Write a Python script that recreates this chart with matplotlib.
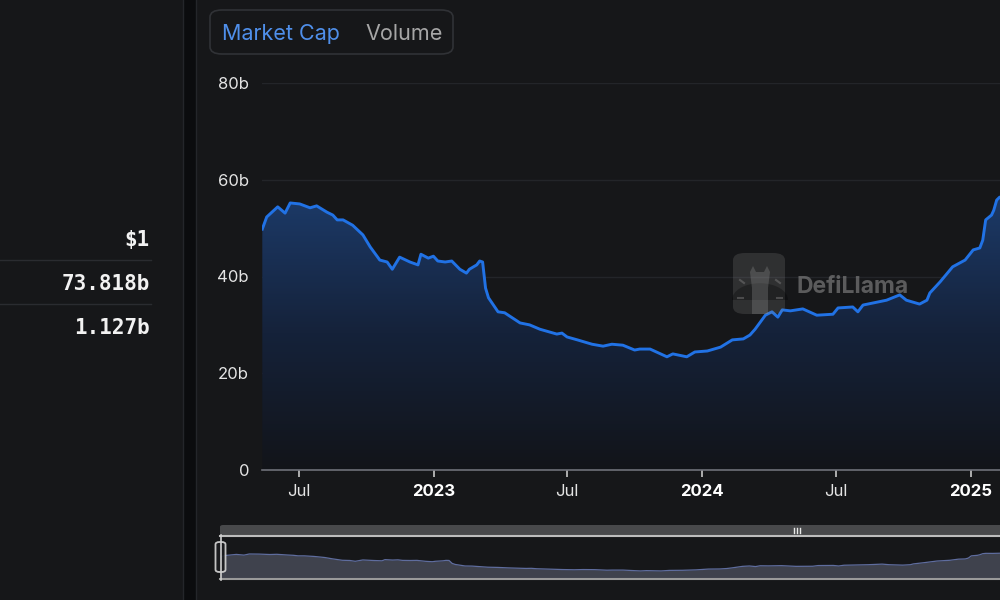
import matplotlib
matplotlib.use("Agg")
import matplotlib.pyplot as plt
import matplotlib.dates as mdates
from matplotlib.patches import FancyBboxPatch, Rectangle, Polygon, Wedge
from matplotlib.lines import Line2D
from matplotlib.colors import LinearSegmentedColormap
import numpy as np
import pandas as pd

# ---------------- data ----------------
DATES = [
    "2022-05-12", "2022-05-18", "2022-06-02", "2022-06-12", "2022-06-19", "2022-07-02",
    "2022-07-16", "2022-07-25", "2022-08-08", "2022-08-16", "2022-08-22", "2022-08-30",
    "2022-09-12", "2022-09-26", "2022-10-06", "2022-10-19", "2022-10-29", "2022-11-05",
    "2022-11-15", "2022-11-29", "2022-12-10", "2022-12-14", "2022-12-24", "2022-12-31",
    "2023-01-06", "2023-01-16", "2023-01-25", "2023-02-05", "2023-02-14", "2023-02-18",
    "2023-02-28", "2023-03-04", "2023-03-08", "2023-03-12", "2023-03-16", "2023-03-29",
    "2023-04-07", "2023-04-18", "2023-04-28", "2023-05-11", "2023-05-25", "2023-06-17",
    "2023-06-24", "2023-07-01", "2023-07-15", "2023-08-04", "2023-08-19", "2023-08-31",
    "2023-09-15", "2023-10-01", "2023-10-08", "2023-10-22", "2023-11-14", "2023-11-22",
    "2023-12-11", "2023-12-22", "2024-01-08", "2024-01-26", "2024-02-11", "2024-02-26",
    "2024-03-06", "2024-03-13", "2024-03-27", "2024-04-05", "2024-04-13", "2024-04-19",
    "2024-04-30", "2024-05-17", "2024-06-05", "2024-06-27", "2024-07-04", "2024-07-24",
    "2024-07-31", "2024-08-07", "2024-09-08", "2024-09-26", "2024-10-05", "2024-10-23",
    "2024-11-02", "2024-11-06", "2024-11-20", "2024-12-07", "2024-12-24", "2025-01-04",
    "2025-01-13", "2025-01-17", "2025-01-21", "2025-01-29", "2025-02-01", "2025-02-05",
    "2025-02-09", "2025-02-18", "2025-02-27",
]
MCAP_B = [
    49.8, 52.3, 54.4, 53.1, 55.2, 55.0,
    54.2, 54.6, 53.3, 52.7, 51.7, 51.7,
    50.6, 48.6, 46.1, 43.4, 43.0, 41.5,
    44.0, 43.0, 42.4, 44.6, 43.8, 44.2,
    43.2, 43.0, 43.2, 41.5, 40.7, 41.5,
    42.4, 43.2, 43.0, 37.6, 35.6, 32.7,
    32.5, 31.4, 30.4, 30.0, 29.1, 28.1,
    28.3, 27.5, 26.9, 26.0, 25.6, 26.0,
    25.8, 24.8, 25.0, 25.0, 23.4, 24.0,
    23.4, 24.4, 24.6, 25.4, 26.9, 27.1,
    27.9, 29.1, 32.0, 32.7, 31.6, 33.1,
    32.9, 33.3, 32.0, 32.2, 33.5, 33.7,
    32.7, 34.1, 35.1, 36.2, 35.1, 34.3,
    35.1, 36.6, 38.9, 42.0, 43.4, 45.5,
    45.9, 47.5, 51.7, 52.7, 53.7, 55.8,
    56.4, 56.3, 56.6,
]
X_TICK_DATES = ["2022-07-01", "2023-01-01", "2023-07-01", "2024-01-01", "2024-07-01", "2025-01-01"]
X_TICK_LABELS = ["Jul", "2023", "Jul", "2024", "Jul", "2025"]
Y_TICKS = [0, 20, 40, 60, 80]
Y_TICK_LABELS = ["0", "20b", "40b", "60b", "80b"]
TABS = ["Market Cap", "Volume"]
PANEL_VALUES = ["$1", "73.818b", "1.127b"]
MCAP_NOW_B = 73.818
BRAND = "DefiLlama"
MAIN_XLIM = ("2022-05-11 14:24", "2025-02-09 12:00")
MINI_XLIM = ("2022-05-11 14:24", "2025-02-27 14:00")

# ---------------- style ----------------
BG = "#161719"
STRIP = "#0b0c0e"
BORDER = "#24262a"
LINE_BLUE = "#2172e5"
TXT = "#e4e4e4"
UI_FONT = ["Inter", "DejaVu Sans"]
MONO = ["DejaVu Sans Mono"]

W, H = 1000, 600


def fx(x):
    return x / W


def fy(y):
    return 1 - y / H


fig = plt.figure(figsize=(10, 6), dpi=100, facecolor=BG)

# panels / separators
fig.add_artist(Rectangle((fx(183), 0), fx(12.5), 1, transform=fig.transFigure,
                         facecolor=STRIP, edgecolor="none", zorder=0))
for xb in (182.5, 196):
    fig.add_artist(Line2D([fx(xb), fx(xb)], [0, 1], transform=fig.transFigure,
                          color=BORDER, lw=1))
for ys in (260.5, 304.5):
    fig.add_artist(Line2D([0, fx(151)], [fy(ys), fy(ys)], transform=fig.transFigure,
                          color="#2a2c30", lw=1))
for txt, yb in zip(PANEL_VALUES, (246, 290, 334)):
    fig.text(fx(150), fy(yb), txt, ha="right", va="baseline", color="#f2f2f2",
             fontsize=15, fontweight="bold", family=MONO)

# tabs
fig.add_artist(FancyBboxPatch((fx(210), fy(54)), fx(243), 44 / H,
                              boxstyle="round,pad=0,rounding_size=0.012",
                              transform=fig.transFigure, facecolor=BG,
                              edgecolor="#303236", lw=1.2))
fig.text(fx(222), fy(40.5), TABS[0], ha="left", va="baseline", color="#4f8fea",
         fontsize=15.5, family=UI_FONT)
fig.text(fx(365), fy(40.5), TABS[1], ha="left", va="baseline", color="#a6a6a6",
         fontsize=15.5, family=UI_FONT)

# ---------------- main chart ----------------
d = pd.to_datetime(DATES)
v = np.array(MCAP_B)
xn = mdates.date2num(d)
x0, x1 = mdates.datestr2num(MAIN_XLIM[0]), mdates.datestr2num(MAIN_XLIM[1])

ax = fig.add_axes([fx(262), fy(470), 1 - fx(262), (470 - 83) / H])
ax.set_facecolor("none")
ax.patch.set_alpha(0)

poly = ax.fill_between(xn, v, 0, facecolor="none", edgecolor="none")
cmap = LinearSegmentedColormap.from_list("g", ["#121419", "#15223a", "#1c3a68"])
grad = np.linspace(0, 1, 256).reshape(-1, 1)
im = ax.imshow(grad, extent=[x0, x1, 0, v.max()], origin="lower", aspect="auto",
               cmap=cmap, zorder=1, interpolation="bilinear")
im.set_clip_path(poly.get_paths()[0], transform=ax.transData)
ax.plot(xn, v, color=LINE_BLUE, lw=2.1, zorder=3, solid_joinstyle="round")

ax.set_xlim(x0, x1)
ax.set_ylim(0, 80)
ax.set_yticks(Y_TICKS)
ax.set_yticklabels(Y_TICK_LABELS)
ax.tick_params(axis="y", length=0, pad=9.3, colors=TXT, labelsize=12)
for lab in ax.get_yticklabels():
    lab.set_family(UI_FONT)
ax.set_xticks(mdates.date2num(pd.to_datetime(X_TICK_DATES)))
ax.set_xticklabels(X_TICK_LABELS)
ax.tick_params(axis="x", length=5, width=1.2, color="#c8c8c8", pad=5,
               labelcolor=TXT, labelsize=12)
for lab in ax.get_xticklabels():
    lab.set_family(UI_FONT)
    if lab.get_text().isdigit():
        lab.set_fontweight("bold")
        lab.set_color("#ffffff")
for yv in Y_TICKS[1:]:
    ax.axhline(yv, color="#232529", lw=1, zorder=0)
for s in ("top", "right", "left"):
    ax.spines[s].set_visible(False)
ax.spines["bottom"].set_color("#6e7079")
ax.spines["bottom"].set_linewidth(1.2)

# watermark (logo + name)
fig.add_artist(FancyBboxPatch((fx(733), fy(314)), fx(52), 61 / H,
                              boxstyle="round,pad=0,rounding_size=0.012",
                              transform=fig.transFigure, facecolor="#8a8a8a",
                              edgecolor="none", alpha=0.22, zorder=5))
fig.add_artist(Wedge((fx(760), fy(300)), 0.028, 0, 180, transform=fig.transFigure,
                     facecolor="#000000", alpha=0.28, zorder=5))
llama = [(752, 314), (752, 288), (750, 272), (753, 266), (756, 272), (764, 272),
         (767, 266), (770, 272), (768, 288), (768, 314)]
fig.add_artist(Polygon([(fx(a), fy(b)) for a, b in llama], closed=True,
                       transform=fig.transFigure, facecolor="#9a9a9a", alpha=0.28,
                       edgecolor="none", zorder=6))
for (a0, b0, a1, b1) in [(740, 280, 744, 283), (776, 280, 780, 283), (738, 298, 743, 298),
                         (777, 298, 782, 298)]:
    fig.add_artist(Line2D([fx(a0), fx(a1)], [fy(b0), fy(b1)], transform=fig.transFigure,
                          color="#9a9a9a", alpha=0.35, lw=1.5, zorder=6))
fig.text(fx(796), fy(293), BRAND, ha="left", va="baseline", color="#8a8a8a", alpha=0.6,
         fontsize=16.5, fontweight="bold", family=UI_FONT, zorder=6)

# ---------------- data-zoom slider ----------------
fig.add_artist(FancyBboxPatch((fx(220), fy(535)), 1 - fx(220) + 0.01, 10 / H,
                              boxstyle="round,pad=0,rounding_size=0.003",
                              transform=fig.transFigure, facecolor="#48494b",
                              edgecolor="none"))
for gx in (793.5, 796.5, 799.5):
    fig.add_artist(Line2D([fx(gx), fx(gx)], [fy(532.5), fy(528)],
                          transform=fig.transFigure, color="#e8e8e8", lw=1))

mini = fig.add_axes([fx(220), fy(579), 1 - fx(220), (579 - 536) / H])
mini.set_facecolor("none")
lo = v.min() - 0.3 * (MCAP_NOW_B - v.min())
hi = MCAP_NOW_B + 0.3 * (MCAP_NOW_B - v.min())
mini.fill_between(xn, v, lo, color="#3f424d", lw=0)
mini.plot(xn, v, color="#5f6d9e", lw=0.9)
mini.set_xlim(mdates.datestr2num(MINI_XLIM[0]), mdates.datestr2num(MINI_XLIM[1]))
mini.set_ylim(lo, hi)
mini.set_xticks([])
mini.set_yticks([])
for s in mini.spines.values():
    s.set_visible(False)

fig.add_artist(Line2D([fx(220), 1], [fy(535.5), fy(535.5)], transform=fig.transFigure,
                      color="#bdbdbd", lw=1.5))
fig.add_artist(Line2D([fx(220), 1], [fy(579), fy(579)], transform=fig.transFigure,
                      color="#9a9a9a", lw=1.5))
fig.add_artist(Line2D([fx(220.5), fx(220.5)], [fy(580), fy(535)], transform=fig.transFigure,
                      color="#d0d0d0", lw=1.2))
fig.add_artist(FancyBboxPatch((fx(215.5), fy(572)), fx(10), 30 / H,
                              boxstyle="round,pad=0,rounding_size=0.004",
                              transform=fig.transFigure, facecolor="#1c1d20",
                              edgecolor="#d8d8d8", lw=1.3, alpha=0.9))

fig.savefig("out.png", dpi=100, facecolor=BG)
